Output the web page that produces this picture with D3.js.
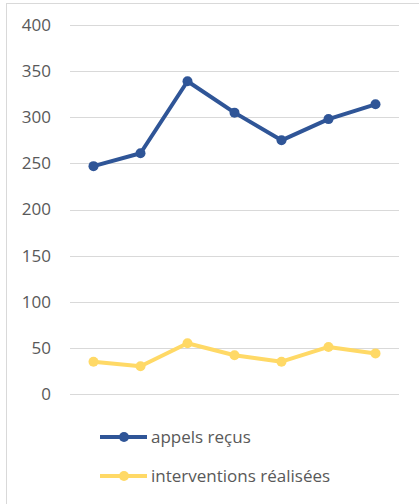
<!DOCTYPE html>
<html><head><meta charset="utf-8">
<script src="https://cdn.jsdelivr.net/npm/d3@7"></script>
<style>
html,body{margin:0;padding:0;background:#fff;}
svg{display:block;font-family:"Open Sans","Noto Sans",sans-serif;}
</style></head>
<body>
<svg id="chart" width="419" height="504"></svg>
<script>
const categories = ["1","2","3","4","5","6","7"];
const appelsRecus = [247, 261, 339, 305, 275, 298, 314];
const interventions = [35, 30, 55, 42, 35, 51, 44];
const yTicks = [0, 50, 100, 150, 200, 250, 300, 350, 400];
const seriesNames = ["appels reçus", "interventions réalisées"];
const seriesColors = ["#2F5597", "#FFD966"];

(function () {
const svg = d3.select("#chart");
// chart border
svg.append("rect").attr("x", 6.5).attr("y", 3.5).attr("width", 430).attr("height", 520)
  .attr("fill", "none").attr("stroke", "#d9d9d9").attr("stroke-width", 1);

const mLeft = 70, mRight = 399, mTop = 25, mBottom = 394;
const x = d3.scaleBand().domain(categories).range([mLeft, mRight]);
const y = d3.scaleLinear().domain([0, 400]).range([mBottom, mTop]);

// gridlines
svg.append("g").selectAll("line").data(yTicks).join("line")
  .attr("x1", mLeft).attr("x2", mRight)
  .attr("y1", d => Math.round(y(d)) + 0.5).attr("y2", d => Math.round(y(d)) + 0.5)
  .attr("stroke", "#d9d9d9").attr("stroke-width", 1);

// y axis labels
const yAxis = d3.axisLeft(y).tickValues(yTicks).tickSize(0).tickPadding(0);
const gy = svg.append("g").attr("transform", `translate(51,0)`).call(yAxis);
gy.select(".domain").remove();
gy.selectAll("text").attr("fill", "#595959").style("font-size", "17px")
  .style("font-family", "'Open Sans','Noto Sans',sans-serif");

const series = [appelsRecus, interventions];
const line = d3.line().x((d, i) => x(categories[i]) + x.bandwidth() / 2).y(d => y(d));

series.forEach((vals, si) => {
  const g = svg.append("g");
  g.append("path").datum(vals).attr("d", line).attr("fill", "none")
    .attr("stroke", seriesColors[si]).attr("stroke-width", 4).attr("stroke-linejoin", "round");
  g.selectAll("circle").data(vals).join("circle")
    .attr("cx", (d, i) => x(categories[i]) + x.bandwidth() / 2)
    .attr("cy", d => y(d)).attr("r", 5).attr("fill", seriesColors[si]);
});

// legend
const legY = [437, 476];
seriesNames.forEach((name, i) => {
  const g = svg.append("g");
  g.append("line").attr("x1", 100).attr("x2", 147).attr("y1", legY[i]).attr("y2", legY[i])
    .attr("stroke", seriesColors[i]).attr("stroke-width", 4);
  g.append("circle").attr("cx", 124).attr("cy", legY[i]).attr("r", 5).attr("fill", seriesColors[i]);
  g.append("text").attr("x", 151).attr("y", legY[i]).attr("dy", "0.33em")
    .attr("fill", "#595959").style("font-size", "17px").text(name);
});
})();
</script>
</body></html>
